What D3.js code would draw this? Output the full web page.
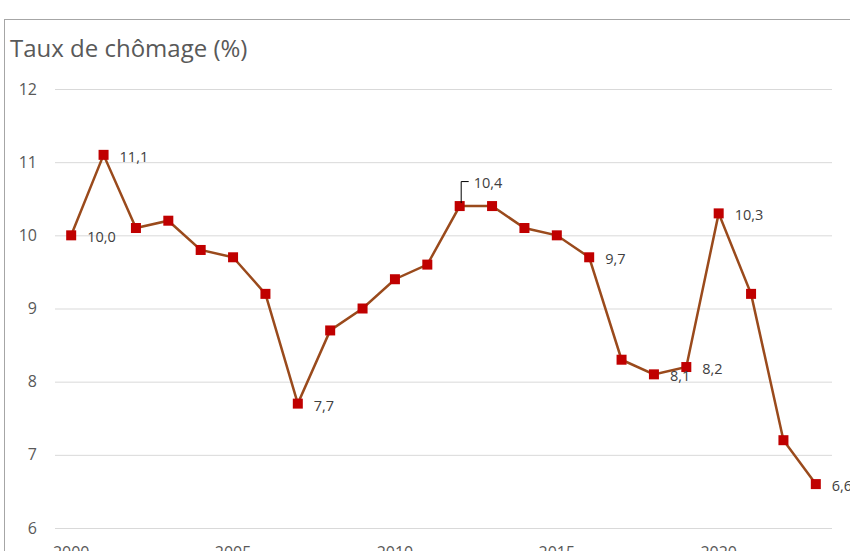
<!DOCTYPE html>
<html><head><meta charset="utf-8">
<script src="https://cdn.jsdelivr.net/npm/d3@7"></script>
<style>body{margin:0;background:#fff;overflow:hidden}</style>
</head><body>
<svg id="c" width="850" height="551"></svg>
<script>
const years = d3.range(2000, 2024);
const values = [10.0, 11.1, 10.1, 10.2, 9.8, 9.7, 9.2, 7.7, 8.7, 9.0, 9.4, 9.6, 10.4, 10.4, 10.1, 10.0, 9.7, 8.3, 8.1, 8.2, 10.3, 9.2, 7.2, 6.6];
const yTicks = [6, 7, 8, 9, 10, 11, 12];
const xTickYears = [2000, 2005, 2010, 2015, 2020];
const labeledYears = [2000, 2001, 2007, 2012, 2016, 2018, 2019, 2020, 2023];
const leaderYears = [2012];
const title = "Taux de chômage (%)";

const data = years.map((y, i) => ({year: y, value: values[i]}));
const svg = d3.select("#c");
const fmt = v => d3.format(".1f")(v).replace(".", ",");

// frame
svg.append("rect").attr("x", 4.5).attr("y", 19.5).attr("width", 900).attr("height", 600)
  .attr("fill", "none").attr("stroke", "#a6a6a6").attr("stroke-width", 1);

svg.append("text").attr("x", 10).attr("y", 57).text(title)
  .attr("font-family", "Open Sans").attr("font-size", 24).attr("fill", "#595959");

const x = d3.scaleBand().domain(years).range([55, 832]);
const y = d3.scaleLinear().domain([6, 12]).range([528, 89]);
const cx = d => x(d) + x.bandwidth() / 2;

// gridlines
svg.append("g").selectAll("line").data(yTicks).join("line")
  .attr("x1", 55).attr("x2", 832).attr("y1", d => y(d) + 0.5).attr("y2", d => y(d) + 0.5)
  .attr("stroke", "#d9d9d9").attr("stroke-width", 1);

const yAxis = svg.append("g").attr("transform", "translate(55,0)")
  .call(d3.axisLeft(y).tickValues(yTicks).tickSize(0).tickPadding(18).tickFormat(d3.format("d")));
yAxis.select(".domain").remove();
yAxis.selectAll("text").attr("font-family", "Open Sans").attr("font-size", 16).attr("fill", "#595959");

const xAxis = svg.append("g").attr("transform", "translate(0,528)")
  .call(d3.axisBottom(x).tickValues(xTickYears).tickSize(0).tickPadding(19));
xAxis.select(".domain").remove();
xAxis.selectAll("text").attr("font-family", "Open Sans").attr("font-size", 16).attr("fill", "#595959");

// line
svg.append("path").datum(data)
  .attr("d", d3.line().x(d => cx(d.year)).y(d => y(d.value)))
  .attr("fill", "none").attr("stroke", "#9a4a1c").attr("stroke-width", 2.5);

// markers
svg.append("g").selectAll("rect").data(data).join("rect")
  .attr("x", d => cx(d.year) - 5).attr("y", d => y(d.value) - 5)
  .attr("width", 10).attr("height", 10).attr("fill", "#c00000");

// labels
const lab = data.filter(d => labeledYears.includes(d.year));
const lg = svg.append("g");
lab.forEach(d => {
  const px = cx(d.year), py = y(d.value);
  if (leaderYears.includes(d.year)) {
    lg.append("path").attr("d", `M${px + 1.5},${py - 3}V${py - 24.5}H${px + 9}`)
      .attr("fill", "none").attr("stroke", "#000").attr("stroke-width", 1);
    lg.append("text").attr("x", px + 14).attr("y", py - 18).text(fmt(d.value))
      .attr("font-family", "Open Sans").attr("font-size", 14.5).attr("fill", "#404040");
  } else {
    lg.append("text").attr("x", px + 16).attr("y", py + 7).text(fmt(d.value))
      .attr("font-family", "Open Sans").attr("font-size", 14.5).attr("fill", "#404040");
  }
});
</script>
</body></html>
